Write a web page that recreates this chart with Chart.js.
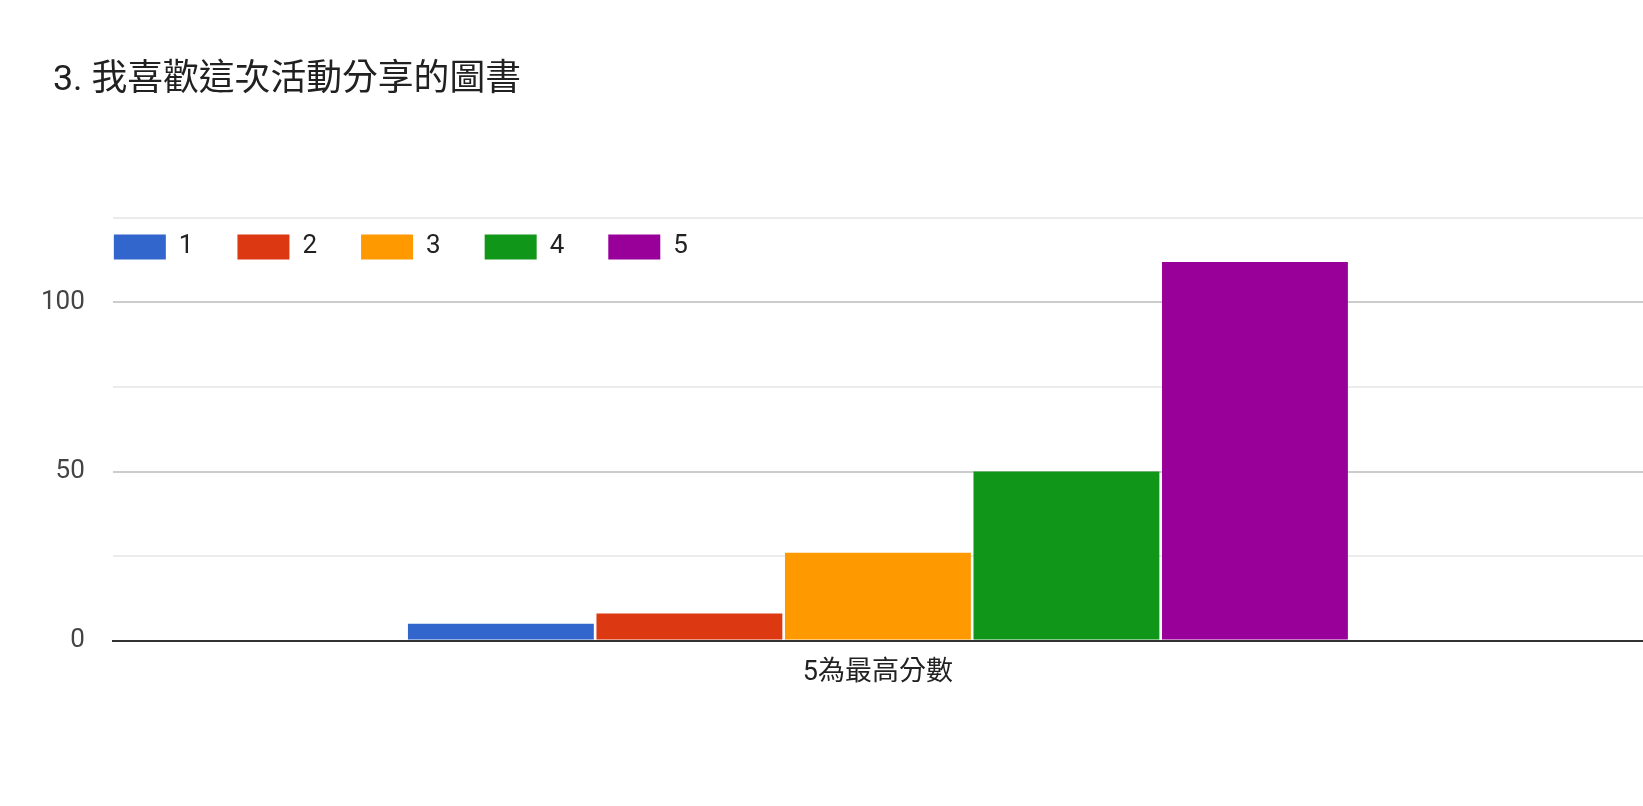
<!DOCTYPE html>
<html>
<head>
<meta charset="utf-8">
<script src="https://cdn.jsdelivr.net/npm/chart.js@4"></script>
<style>
  html, body { margin: 0; padding: 0; background: #fff; }
  #wrap { width: 1643px; height: 806px; }
</style>
</head>
<body>
<div id="wrap"><canvas id="chartLivros"></canvas></div>
<script>
var titulo = "3. 我喜歡這次活動分享的圖書";
var categorias = ["5為最高分數"];
var series = ["1", "2", "3", "4", "5"];
var valores = [5, 8, 26, 50, 112];
var cores = ["#3366cc", "#dc3912", "#ff9900", "#109618", "#990099"];
var yTicks = [0, 50, 100];

var fonte = 'Roboto, "Noto Sans CJK TC", sans-serif';

// google-style: title a bit right of the axis labels, legend drawn inside the plot
var ajustes = {
  id: "ajustes",
  afterLayout: function (chart) {
    chart.titleBlock.left = 53;
    var lg = chart.legend;
    var pad = lg.options.labels.padding;
    var h = lg.height;
    lg.left = chart.chartArea.left + 1 - pad;
    lg.right = chart.width;
    lg.top = chart.chartArea.top + 16 - pad;
    lg.bottom = lg.top + h;
  }
};

function plot() {
  var datasets = series.map(function (nome, i) {
    return {
      label: nome,
      data: [valores[i]],
      backgroundColor: cores[i],
      borderWidth: 0,
      categoryPercentage: 0.616,
      barPercentage: 0.986
    };
  });

  new Chart(document.getElementById("chartLivros"), {
    type: "bar",
    data: { labels: categorias, datasets: datasets },
    plugins: [ajustes],
    options: {
      responsive: true,
      maintainAspectRatio: false,
      animation: false,
      layout: { padding: { left: 13, right: 0, top: 0, bottom: 109 } },
      plugins: {
        title: {
          display: true,
          text: titulo,
          align: "start",
          color: "#212121",
          font: { family: fonte, size: 35.8, weight: "normal" },
          padding: { top: 59.5, bottom: 35.5 }
        },
        legend: {
          position: "top",
          align: "start",
          labels: {
            boxWidth: 52,
            boxHeight: 25,
            padding: 44,
            color: "#222",
            font: { family: fonte, size: 26 }
          }
        },
        tooltip: { enabled: false }
      },
      scales: {
        x: {
          grid: { display: false },
          border: { display: true, color: "#333", width: 2 },
          ticks: { color: "#222", padding: 8, font: { family: fonte, size: 27 } }
        },
        y: {
          min: 0,
          max: 125,
          border: { display: false },
          grid: {
            drawTicks: false,
            lineWidth: 2,
            color: function (ctx) {
              var v = ctx.tick.value;
              if (v === 0) return "#333";
              return yTicks.indexOf(v) >= 0 ? "#cccccc" : "#ebebeb";
            }
          },
          ticks: {
            stepSize: 25,
            padding: 28,
            color: "#444",
            font: { family: fonte, size: 26 },
            callback: function (v) { return yTicks.indexOf(v) >= 0 ? v : ""; }
          }
        }
      }
    }
  });
}

plot();
</script>
</body>
</html>
